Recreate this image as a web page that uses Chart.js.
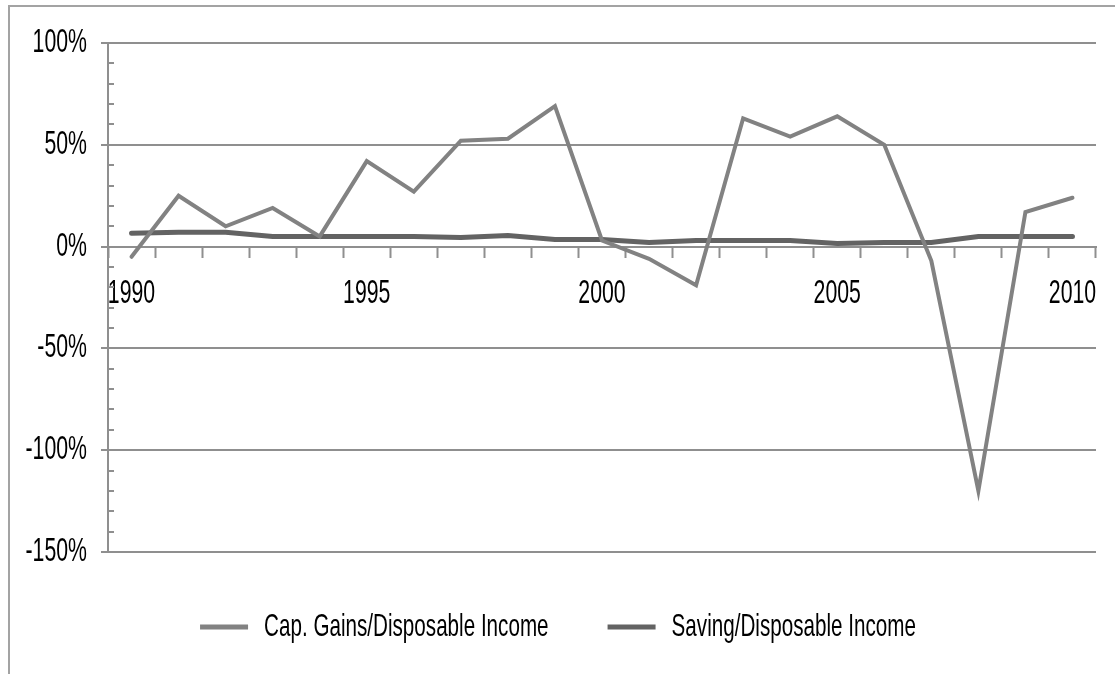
<!DOCTYPE html>
<html>
<head>
<meta charset="utf-8">
<title>Cap. Gains vs Saving</title>
<script src="https://cdn.jsdelivr.net/npm/chart.js@4/dist/chart.umd.min.js"></script>
<style>
    html, body { margin: 0; padding: 0; background: #fff; overflow: hidden; }
    #frame {
        position: absolute; left: 8px; top: 5px;
        width: 1300px; height: 900px;
        border-top: 2px solid #a3a3a3; border-left: 2px solid #a3a3a3;
    }
    #chart { position: absolute; left: 0; top: 0; }
</style>
</head>
<body>
<div id="frame"></div>
<canvas id="chart" width="1115" height="674"></canvas>
<script>
// 資料
const years = ['1990', '1991', '1992', '1993', '1994', '1995', '1996', '1997', '1998', '1999', '2000',
               '2001', '2002', '2003', '2004', '2005', '2006', '2007', '2008', '2009', '2010'];
const labeledYears = ['1990', '1995', '2000', '2005', '2010'];
const capGains = [-5, 25, 10, 19, 5, 42, 27, 52, 53, 69, 3, -6, -19, 63, 54, 64, 50, -7, -120, 17, 24];
const saving = [6.5, 7, 7, 5, 5, 5, 5, 4.5, 5.5, 3.5, 3.5, 2, 3, 3, 3, 1.5, 2, 2, 5, 5, 5];
const yLabelTicks = [-150, -100, -50, 0, 50, 100];

const GRID = '#8f8f8f';
const FONT = 'Liberation Sans';
const SQUEEZE = 0.645; // 原圖文字是窄體

// 文字水平壓縮 (只影響文字，不影響線條)
const canvas = document.getElementById('chart');
const ctx2d = canvas.getContext('2d');
const baseFillText = ctx2d.fillText.bind(ctx2d);
const baseMeasure = ctx2d.measureText.bind(ctx2d);
ctx2d.fillText = function (text, x, y) {
    this.save();
    this.translate(x, y);
    this.scale(SQUEEZE, 1);
    baseFillText(text, 0, 0);
    this.restore();
};
ctx2d.measureText = function (text) {
    const m = baseMeasure(text);
    return {
        width: m.width * SQUEEZE,
        actualBoundingBoxAscent: m.actualBoundingBoxAscent,
        actualBoundingBoxDescent: m.actualBoundingBoxDescent,
        actualBoundingBoxLeft: m.actualBoundingBoxLeft * SQUEEZE,
        actualBoundingBoxRight: m.actualBoundingBoxRight * SQUEEZE
    };
};

// y 軸內側小刻度
const minorTicks = {
    id: 'minorTicks',
    afterDatasetsDraw(chart) {
        const { ctx, chartArea } = chart;
        const y = chart.scales.y;
        ctx.save();
        ctx.strokeStyle = GRID;
        ctx.lineWidth = 2;
        y.ticks.forEach(t => {
            if (yLabelTicks.includes(t.value)) return;
            const py = Math.round(y.getPixelForValue(t.value));
            ctx.beginPath();
            ctx.moveTo(chartArea.left, py);
            ctx.lineTo(chartArea.left + 6, py);
            ctx.stroke();
        });
        ctx.restore();
    }
};

new Chart(ctx2d, {
    type: 'line',
    data: {
        labels: years,
        datasets: [{
            label: 'Cap. Gains/Disposable Income',
            data: capGains,
            borderColor: '#828282',
            backgroundColor: '#828282',
            borderWidth: 4,
            pointRadius: 0,
            tension: 0,
            borderCapStyle: 'round'
        }, {
            label: 'Saving/Disposable Income',
            data: saving,
            borderColor: '#636363',
            backgroundColor: '#636363',
            borderWidth: 5,
            pointRadius: 0,
            tension: 0,
            borderCapStyle: 'round'
        }]
    },
    options: {
        responsive: false,
        devicePixelRatio: 1,
        animation: false,
        events: [],
        layout: {
            padding: { top: 43, right: 19, left: 20, bottom: 21 }
        },
        plugins: {
            tooltip: { enabled: false },
            legend: {
                position: 'bottom',
                labels: {
                    font: { family: FONT, size: 32 },
                    color: '#000',
                    boxWidth: 48,
                    boxHeight: 5,
                    padding: 59,
                    generateLabels: chart => Chart.defaults.plugins.legend.labels
                        .generateLabels(chart)
                        .map(item => Object.assign(item, { lineWidth: 0 }))
                }
            }
        },
        scales: {
            x: {
                type: 'category',
                position: { y: 0 },
                offset: true,
                grid: {
                    offset: true,
                    drawOnChartArea: false,
                    drawTicks: true,
                    tickLength: 10,
                    tickWidth: 2,
                    tickColor: GRID
                },
                border: { display: true, color: GRID, width: 2 },
                ticks: {
                    autoSkip: false,
                    maxRotation: 0,
                    padding: 18,
                    color: '#000',
                    font: { family: FONT, size: 33 },
                    callback: (v, i) => labeledYears.includes(years[i]) ? years[i] : ''
                }
            },
            y: {
                min: -150,
                max: 100,
                afterFit: scale => { scale.width = 88; },
                grid: {
                    lineWidth: 2,
                    color: c => yLabelTicks.includes(c.tick.value) ? GRID : 'rgba(0,0,0,0)',
                    tickColor: c => yLabelTicks.includes(c.tick.value) ? GRID : 'rgba(0,0,0,0)',
                    tickLength: 7,
                    tickWidth: 2
                },
                border: { display: true, color: GRID, width: 2 },
                ticks: {
                    stepSize: 10,
                    autoSkip: false,
                    padding: 14,
                    color: '#000',
                    font: { family: FONT, size: 33 },
                    callback: v => yLabelTicks.includes(v) ? v + '%' : ''
                }
            }
        }
    },
    plugins: [minorTicks]
});
</script>
</body>
</html>
